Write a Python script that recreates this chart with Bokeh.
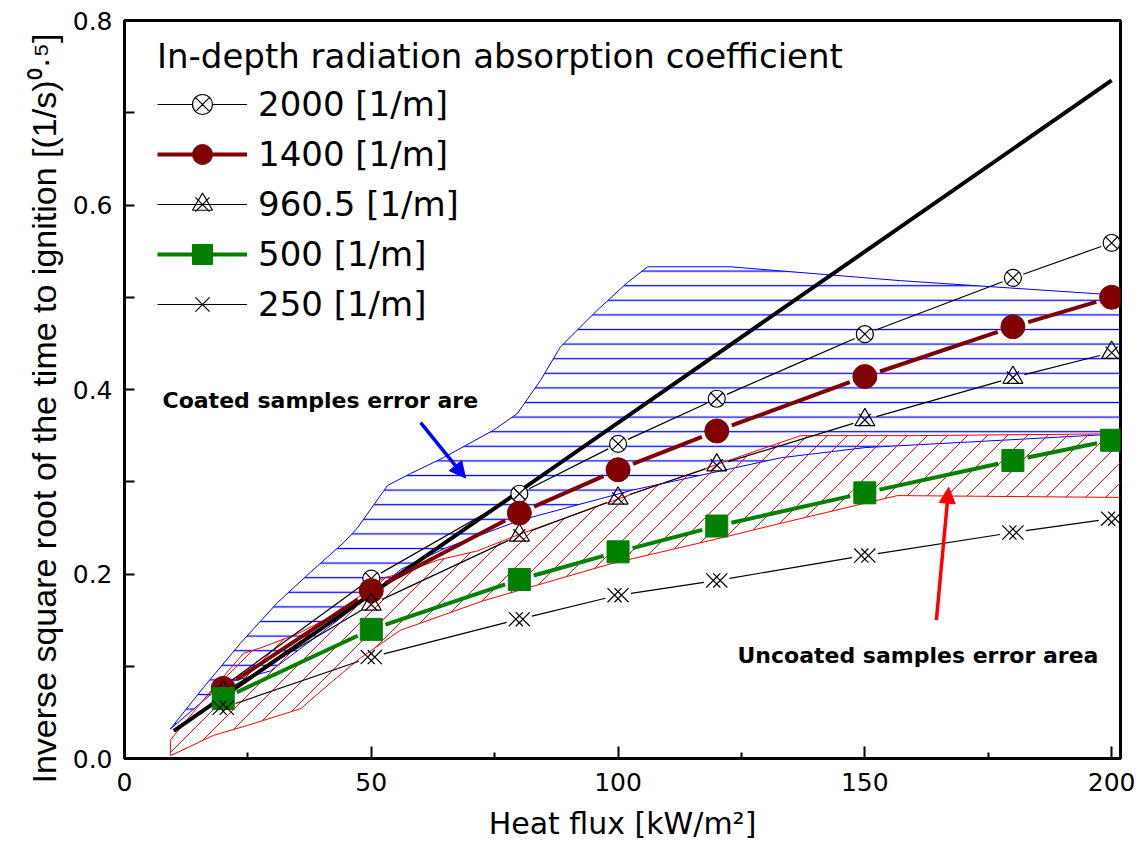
import numpy as np
from bokeh.plotting import figure
from bokeh.models import (Range1d, FixedTicker, Legend, LegendItem, Label, Arrow, NormalHead, Title)
from bokeh.embed import file_html
from bokeh.resources import INLINE

# ---------------- data ----------------
heat_flux = [20, 50, 80, 100, 120, 150, 180, 200]
y_2000 = [0.078, 0.195, 0.287, 0.341, 0.390, 0.460, 0.521, 0.559]
y_1400 = [0.076, 0.182, 0.266, 0.313, 0.355, 0.414, 0.468, 0.500]
y_960 = [0.072, 0.167, 0.242, 0.282, 0.318, 0.367, 0.413, 0.440]
y_500 = [0.065, 0.140, 0.194, 0.224, 0.252, 0.288, 0.323, 0.345]
y_250 = [0.055, 0.110, 0.151, 0.177, 0.193, 0.220, 0.245, 0.260]

model_x = [10, 200]
model_y = [0.030, 0.735]

coated_x = [9.3, 16.0, 23.5, 31.0, 37.7, 44.4, 47.2, 53.3, 58.0, 64.6, 74.8, 79.6, 84.3, 88.3,
            95.8, 101.9, 106.0, 122.8, 157.2, 202.0,
            202.0, 150.0, 133.0, 121.0, 103.0, 80.0, 65.0, 56.0, 48.4, 37.1, 29.6, 20.0, 9.3]
coated_y = [0.032, 0.077, 0.125, 0.169, 0.202, 0.234, 0.250, 0.296, 0.309, 0.326, 0.356, 0.374, 0.410, 0.446,
            0.486, 0.516, 0.533, 0.533, 0.518, 0.502,
            0.352, 0.337, 0.326, 0.312, 0.291, 0.258, 0.228, 0.205, 0.171, 0.125, 0.095, 0.081, 0.032]

uncoated_x = [9.3, 17.0, 24.1, 27.6, 35.0, 43.0, 52.5, 55.9, 63.4, 71.5, 80.0, 103.0, 123.4, 137.0, 160.0, 202.0,
              202.0, 156.6, 133.0, 120.0, 98.5, 72.7, 55.9, 47.8, 42.4, 35.7, 25.0, 18.0, 9.3]
uncoated_y = [0.020, 0.070, 0.114, 0.120, 0.135, 0.157, 0.196, 0.200, 0.215, 0.225, 0.243, 0.287, 0.325, 0.350, 0.350, 0.352,
              0.283, 0.285, 0.255, 0.238, 0.211, 0.171, 0.139, 0.109, 0.085, 0.054, 0.036, 0.025, 0.003]

series_labels = ["2000 [1/m]", "1400 [1/m]", "960.5 [1/m]", "500 [1/m]", "250 [1/m]"]

x_ticks = [0, 50, 100, 150, 200]
x_minor = [25, 75, 125, 175]
y_ticks = [0.0, 0.2, 0.4, 0.6, 0.8]
y_minor = [0.1, 0.3, 0.5, 0.7]

# ---------------- layout ----------------
W, H = 1136, 847
L_B, R_B, T_B, B_B = 124, 16, 20, 89
FW, FH = W - L_B - R_B, H - T_B - B_B
X0, X1 = 0, 201.8
Y0, Y1 = 0, 0.8
SX = FW / (X1 - X0)
SY = FH / (Y1 - Y0)

p = figure(width=W, height=H, output_backend="svg", toolbar_location=None,
           x_range=Range1d(X0, X1), y_range=Range1d(Y0, Y1),
           min_border_left=L_B, min_border_right=R_B, min_border_top=T_B, min_border_bottom=B_B)
p.grid.visible = False
p.outline_line_color = "black"
p.outline_line_width = 3
p.background_fill_color = "white"
p.border_fill_color = "white"

for ax in (p.xaxis[0], p.yaxis[0]):
    ax.axis_line_width = 3
    ax.major_tick_line_width = 2
    ax.minor_tick_line_width = 2
    ax.major_tick_out = 0
    ax.minor_tick_out = 0
    ax.axis_label_text_font_style = "normal"
    ax.axis_label_text_color = "black"
    ax.major_label_text_color = "black"

p.xaxis.ticker = FixedTicker(ticks=x_ticks, minor_ticks=x_minor)
p.yaxis.ticker = FixedTicker(ticks=y_ticks, minor_ticks=y_minor)
p.xaxis.major_tick_in = 12
p.xaxis.minor_tick_in = 6
p.yaxis.major_tick_in = 10
p.yaxis.minor_tick_in = 10
p.xaxis.major_label_overrides = {0: "0", 50: "50", 100: "100", 150: "150", 200: "200"}
p.yaxis.major_label_overrides = {0.0: "0.0", 0.2: "0.2", 0.4: "0.4", 0.6: "0.6", 0.8: "0.8"}
p.xaxis.major_label_text_font = "DejaVu Sans"
p.yaxis.major_label_text_font = "DejaVu Sans"
p.xaxis.major_label_text_font_size = "25px"
p.yaxis.major_label_text_font_size = "25px"
p.xaxis.major_label_standoff = 14
p.yaxis.major_label_standoff = 12

p.xaxis.axis_label = "Heat flux [kW/m\u00b2]"
p.xaxis.axis_label_text_font = "DejaVu Sans"
p.xaxis.axis_label_text_font_size = "30px"
p.xaxis.axis_label_standoff = 12

# y axis title: a vertical title on the left, starting slightly below the frame bottom
p.add_layout(Title(text="Inverse square root of the time to ignition [(1/s)\u2070\u00b7\u2075]",
                   align="left", offset=-25, standoff=14,
                   text_font="Liberation Sans", text_font_size="34px",
                   text_font_style="normal", text_color="black"), "left")

# ---------------- error areas ----------------
p.patch(coated_x, coated_y, fill_color=None, line_color="blue", line_width=1,
        hatch_pattern="horizontal_line", hatch_color="blue", hatch_scale=14.6, hatch_weight=1.3)


def hatch45(px, py, step):
    """45 degree hatch lines (in screen space) clipped to the polygon."""
    X = np.array(px) * SX
    Y = np.array(py) * SY
    d = Y - X
    n = len(X)
    out = ([], [], [], [])
    k = np.floor(d.min() / step) * step
    while k < d.max():
        cuts = []
        for i in range(n):
            j = (i + 1) % n
            f1, f2 = d[i] - k, d[j] - k
            if (f1 > 0) != (f2 > 0):
                t = f1 / (f1 - f2)
                cuts.append(X[i] + t * (X[j] - X[i]))
        cuts.sort()
        for a, b in zip(cuts[0::2], cuts[1::2]):
            out[0].append(a / SX)
            out[1].append((a + k) / SY)
            out[2].append(b / SX)
            out[3].append((b + k) / SY)
        k += step
    return out


p.segment(*hatch45(uncoated_x, uncoated_y, 20), line_color="red", line_width=1)
p.patch(uncoated_x, uncoated_y, fill_color=None, line_color="red", line_width=1)

# ---------------- model line ----------------
p.line(model_x, model_y, line_color="black", line_width=4)


# ---------------- series ----------------
def gapped(xs, ys, gap):
    x0s, y0s, x1s, y1s = [], [], [], []
    for i in range(len(xs) - 1):
        dxd, dyd = xs[i + 1] - xs[i], ys[i + 1] - ys[i]
        Lp = np.hypot(dxd * SX, dyd * SY)
        f = gap / Lp
        x0s.append(xs[i] + dxd * f)
        y0s.append(ys[i] + dyd * f)
        x1s.append(xs[i + 1] - dxd * f)
        y1s.append(ys[i + 1] - dyd * f)
    return x0s, y0s, x1s, y1s


items = []

# 2000
s = gapped(heat_flux, y_2000, 11)
r1 = p.segment(*s, line_color="black", line_width=1.2)
m1 = p.scatter(heat_flux, y_2000, marker="circle_x", size=17, fill_color="white",
               line_color="black", line_width=1.2)
items.append(LegendItem(label=series_labels[0], renderers=[r1, m1]))

# 1400
s = gapped(heat_flux, y_1400, 16)
r2 = p.segment(*s, line_color="#800000", line_width=4)
m2 = p.scatter(heat_flux, y_1400, marker="circle", size=24, fill_color="#800000",
               line_color="#800000")
items.append(LegendItem(label=series_labels[1], renderers=[r2, m2]))

# 960.5  (triangle with an x through it)
s = gapped(heat_flux, y_960, 12)
r3 = p.segment(*s, line_color="black", line_width=1.2)
m3a = p.scatter(heat_flux, y_960, marker="triangle", size=20, fill_color="white", fill_alpha=0,
                line_color="black", line_width=1.2)
m3b = p.scatter(heat_flux, y_960, marker="x", size=17, line_color="black", line_width=1.2)
items.append(LegendItem(label=series_labels[2], renderers=[r3, m3a, m3b]))

# 500
s = gapped(heat_flux, y_500, 15)
r4 = p.segment(*s, line_color="#008000", line_width=4)
m4 = p.scatter(heat_flux, y_500, marker="square", size=22, fill_color="#008000",
               line_color="#008000")
items.append(LegendItem(label=series_labels[3], renderers=[r4, m4]))

# 250  (lattice marker: two crossed "x" offset by a few pixels)
off = 3.5 / SX
s = gapped(heat_flux, y_250, 13)
r5 = p.segment(*s, line_color="black", line_width=1.2)
m5a = p.scatter([v - off for v in heat_flux], y_250, marker="x", size=20,
                line_color="black", line_width=1.2)
m5b = p.scatter([v + off for v in heat_flux], y_250, marker="x", size=20,
                line_color="black", line_width=1.2)
items.append(LegendItem(label=series_labels[4], renderers=[r5, m5a]))

legend = Legend(items=items, location=(33, 429),
                title="In-depth radiation absorption coefficient",
                title_text_font="DejaVu Sans", title_text_font_size="34px",
                title_text_font_style="normal", title_text_color="black",
                title_standoff=3,
                label_text_font="DejaVu Sans", label_text_font_size="34px", label_text_color="black",
                glyph_width=90, glyph_height=50, label_height=50, label_standoff=11,
                spacing=-1, padding=0, margin=0,
                background_fill_alpha=0, border_line_alpha=0)
p.add_layout(legend, "center")

# ---------------- annotations ----------------
p.add_layout(Label(x=7.7, y=0.388, text="Coated samples error are",
                   text_font="DejaVu Sans", text_font_style="bold", text_font_size="22px",
                   text_color="black", text_baseline="alphabetic"))
p.add_layout(Label(x=124.2, y=0.112, text="Uncoated samples error area",
                   text_font="DejaVu Sans", text_font_style="bold", text_font_size="22px",
                   text_color="black", text_baseline="alphabetic"))

p.add_layout(Arrow(end=NormalHead(size=16, fill_color="blue", line_color="blue"),
                   x_start=60.0, y_start=0.364, x_end=69.1, y_end=0.304,
                   line_color="blue", line_width=3.5))
p.add_layout(Arrow(end=NormalHead(size=16, fill_color="red", line_color="red"),
                   x_start=164.5, y_start=0.150, x_end=167.0, y_end=0.294,
                   line_color="red", line_width=3.5))

open("out.html", "w").write(file_html(p, INLINE))
